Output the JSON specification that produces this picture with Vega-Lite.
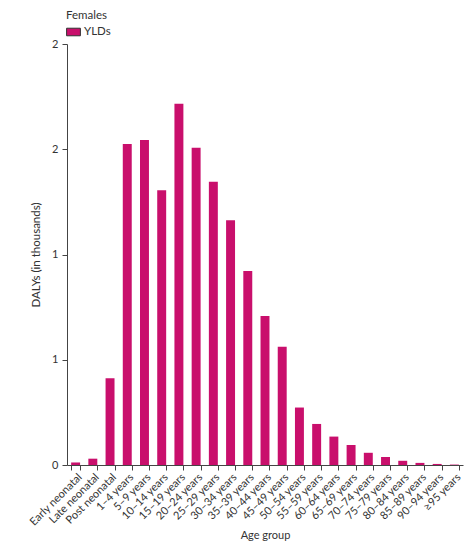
{
  "$schema": "https://vega.github.io/schema/vega-lite/v6.json",
  "width": 396,
  "height": 421,
  "autosize": {"type": "none"},
  "padding": {"left": 67, "top": 44, "right": 11, "bottom": 81},
  "config": {
    "view": {"stroke": null},
    "font": "Lato",
    "axis": {"labelFont": "Lato", "titleFont": "Lato", "labelColor": "#333", "titleColor": "#333", "domainColor": "#444", "tickColor": "#444", "grid": false, "labelFontSize": 11, "titleFontSize": 11.5, "titleFontWeight": "normal"},
    "legend": {"labelFont": "Lato", "titleFont": "Lato"}
  },
  "data": {
    "values": [
      {"age": "Early neonatal", "val": 0.012, "type": "YLDs"},
      {"age": "Late neonatal", "val": 0.03, "type": "YLDs"},
      {"age": "Post neonatal", "val": 0.412, "type": "YLDs"},
      {"age": "1–4 years", "val": 1.525, "type": "YLDs"},
      {"age": "5–9 years", "val": 1.544, "type": "YLDs"},
      {"age": "10–14 years", "val": 1.305, "type": "YLDs"},
      {"age": "15–19 years", "val": 1.716, "type": "YLDs"},
      {"age": "20–24 years", "val": 1.507, "type": "YLDs"},
      {"age": "25–29 years", "val": 1.346, "type": "YLDs"},
      {"age": "30–34 years", "val": 1.163, "type": "YLDs"},
      {"age": "35–39 years", "val": 0.922, "type": "YLDs"},
      {"age": "40–44 years", "val": 0.708, "type": "YLDs"},
      {"age": "45–49 years", "val": 0.562, "type": "YLDs"},
      {"age": "50–54 years", "val": 0.273, "type": "YLDs"},
      {"age": "55–59 years", "val": 0.195, "type": "YLDs"},
      {"age": "60–64 years", "val": 0.135, "type": "YLDs"},
      {"age": "65–69 years", "val": 0.095, "type": "YLDs"},
      {"age": "70–74 years", "val": 0.058, "type": "YLDs"},
      {"age": "75–79 years", "val": 0.038, "type": "YLDs"},
      {"age": "80–84 years", "val": 0.02, "type": "YLDs"},
      {"age": "85–89 years", "val": 0.01, "type": "YLDs"},
      {"age": "90–94 years", "val": 0.005, "type": "YLDs"},
      {"age": "≥95 years", "val": 0.002, "type": "YLDs"}
    ]
  },
  "mark": {"type": "bar", "strokeWidth": 0},
  "encoding": {
    "x": {
      "field": "age", "type": "nominal", "sort": null,
      "scale": {"paddingInner": 0.48, "paddingOuter": 0.24},
      "axis": {"title": "Age group", "labelAngle": -45, "labelAlign": "right", "labelBaseline": "top", "tickBand": "extent", "tickSize": 5, "labelPadding": 1, "titlePadding": 2, "titleFontSize": 11}
    },
    "y": {
      "field": "val", "type": "quantitative",
      "scale": {"domain": [0, 2]},
      "axis": {"title": "DALYs (in thousands)", "values": [0, 0.5, 1, 1.5, 2], "labelExpr": "'' + round(datum.value)", "labelOverlap": false, "tickSize": 5, "labelPadding": 4, "titlePadding": 10}
    },
    "color": {
      "field": "type", "type": "nominal",
      "scale": {"range": ["#c90f6c"]},
      "legend": {"title": "Females", "orient": "none", "legendX": -1, "legendY": -34, "titleFontSize": 11.5, "titleFontWeight": "normal", "titleColor": "#333", "labelFontSize": 11.5, "labelColor": "#333", "symbolType": "M-1,-0.55H1V0.55H-1Z", "symbolSize": 190, "symbolStrokeColor": "#333", "symbolStrokeWidth": 1, "symbolOpacity": 1, "titlePadding": 3, "labelOffset": 3}
    }
  }
}
